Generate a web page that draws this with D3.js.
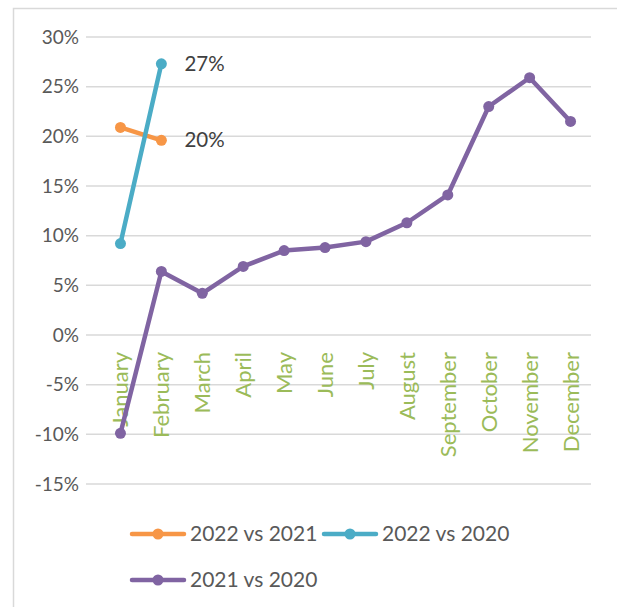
<!DOCTYPE html>
<html>
<head>
<meta charset="utf-8">
<script src="https://cdn.jsdelivr.net/npm/d3@7"></script>
<style>
  body { margin: 0; background: white; }
  text { font-family: Lato, "Open Sans", sans-serif; }
</style>
</head>
<body>
<svg id="chart"></svg>
<script>
// monthly change chart
var W = 617;
var H = 607;

var months = ["January", "February", "March", "April", "May", "June", "July",
  "August", "September", "October", "November", "December"];
var yTicks = [-0.15, -0.10, -0.05, 0, 0.05, 0.10, 0.15, 0.20, 0.25, 0.30];

var v2022vs2021 = [0.209, 0.196];
var v2022vs2020 = [0.092, 0.273];
var v2021vs2020 = [-0.099, 0.064, 0.042, 0.069, 0.085, 0.088, 0.094, 0.113, 0.141, 0.230, 0.259, 0.215];

var seriesNames = ["2022 vs 2021", "2022 vs 2020", "2021 vs 2020"];
var colors = ["#f79646", "#4bacc6", "#8064a2"];

var series = [v2022vs2021, v2022vs2020, v2021vs2020].map((vals, i) => ({
  name: seriesNames[i],
  color: colors[i],
  values: vals.map((v, j) => ({month: months[j], value: v}))
}));

var svg = d3.select("#chart")
  .attr("width", W)
  .attr("height", H);

svg.append("rect")
  .attr("width", "100%")
  .attr("height", "100%")
  .attr("fill", "white");

// chart frame (only left & top visible)
svg.append("rect")
  .attr("x", 13.5)
  .attr("y", 8.5)
  .attr("width", W + 20)
  .attr("height", H + 20)
  .attr("fill", "none")
  .attr("stroke", "#d9d9d9")
  .attr("stroke-width", 1.5);

var x = d3.scaleBand()
  .domain(months)
  .range([100, 591]);

var y = d3.scaleLinear()
  .domain([-0.15, 0.30])
  .range([484, 37]);

// gridlines + y labels
var grid = svg.append("g");
grid.selectAll("line")
  .data(yTicks)
  .enter()
  .append("line")
  .attr("x1", 86)
  .attr("x2", 591)
  .attr("y1", d => y(d))
  .attr("y2", d => y(d))
  .attr("stroke", "#d9d9d9")
  .attr("stroke-width", 1.5);

grid.selectAll("text")
  .data(yTicks)
  .enter()
  .append("text")
  .attr("x", 79)
  .attr("y", d => y(d))
  .attr("dy", "0.35em")
  .attr("text-anchor", "end")
  .attr("fill", "#595959")
  .style("font-size", "19px")
  .text(d => d3.format(".0%")(d).replace("−", "-"));

// month labels, rotated
svg.append("g")
  .selectAll("text")
  .data(months)
  .enter()
  .append("text")
  .attr("transform", d => `translate(${x(d) + x.bandwidth() / 2 + 8},352) rotate(-90)`)
  .attr("text-anchor", "end")
  .attr("fill", "#9bbb59")
  .style("font-size", "22px")
  .text(d => d);

var line = d3.line()
  .x(d => x(d.month) + x.bandwidth() / 2)
  .y(d => y(d.value));

// draw purple first so others sit on top like the original
[2, 0, 1].forEach(i => {
  var s = series[i];
  var g = svg.append("g");
  g.append("path")
    .datum(s.values)
    .attr("fill", "none")
    .attr("stroke", s.color)
    .attr("stroke-width", 4.5)
    .attr("stroke-linejoin", "round")
    .attr("stroke-linecap", "round")
    .attr("d", line);
  g.selectAll("circle")
    .data(s.values)
    .enter()
    .append("circle")
    .attr("cx", d => x(d.month) + x.bandwidth() / 2)
    .attr("cy", d => y(d.value))
    .attr("r", 5.5)
    .attr("fill", s.color);
});

// data labels at February
[0, 1].forEach(i => {
  var last = series[i].values[series[i].values.length - 1];
  svg.append("text")
    .attr("x", x(last.month) + x.bandwidth() / 2 + 23)
    .attr("y", y(last.value))
    .attr("dy", "0.35em")
    .attr("fill", "#404040")
    .style("font-size", "20.5px")
    .text(d3.format(".0%")(last.value));
});

// legend
var legendPos = [[130, 534], [322, 534], [130, 580]];
series.forEach((s, i) => {
  var lg = svg.append("g")
    .attr("transform", `translate(${legendPos[i][0]},${legendPos[i][1]})`);
  lg.append("line")
    .attr("x1", 2).attr("x2", 54)
    .attr("stroke", s.color)
    .attr("stroke-width", 4.5)
    .attr("stroke-linecap", "round");
  lg.append("circle")
    .attr("cx", 28)
    .attr("r", 5.5)
    .attr("fill", s.color);
  lg.append("text")
    .attr("x", 60)
    .attr("dy", "0.35em")
    .attr("fill", "#595959")
    .style("font-size", "21px")
    .text(s.name);
});
</script>
</body>
</html>
